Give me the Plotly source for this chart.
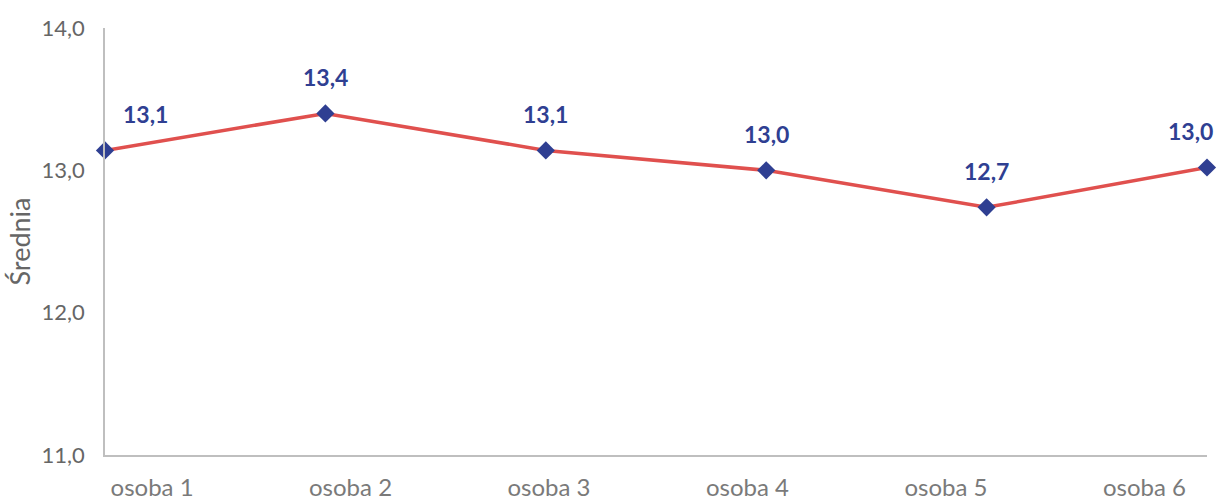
import plotly.graph_objects as go

# Average score per person
categories = ["osoba 1", "osoba 2", "osoba 3", "osoba 4", "osoba 5", "osoba 6"]
values = [13.14, 13.40, 13.14, 13.00, 12.74, 13.02]
y_ticks = [11, 12, 13, 14]

# horizontal nudges for value labels at the plot edges
label_xshift = [40, 0, 0, 0, 0, -17]

FONT = "Lato"
GREY = "#666666"
AXIS = "#BFBFBF"
LINE = "#E0504E"
MARK = "#2F3F92"

idx = list(range(len(categories)))

fig = go.Figure()
fig.add_trace(go.Scatter(
    x=idx, y=values, mode="lines+markers",
    line=dict(color=LINE, width=3.5),
    marker=dict(symbol="diamond", size=14, color=MARK),
    hoverinfo="skip", showlegend=False, cliponaxis=False,
))
# invisible trace carrying the category axis labels
fig.add_trace(go.Scatter(
    x=idx, y=values, xaxis="x2", mode="markers",
    marker=dict(opacity=0), hoverinfo="skip", showlegend=False,
))

for i, v in enumerate(values):
    fig.add_annotation(
        x=i, y=v, text=f"{v:.1f}".replace(".", ","),
        showarrow=False, yshift=36, xshift=label_xshift[i],
        font=dict(family=FONT, size=23, color=MARK, weight="bold"),
    )

fig.update_layout(
    width=1231, height=500,
    margin=dict(l=105, r=24, t=28, b=45, autoexpand=False),
    paper_bgcolor="white", plot_bgcolor="white",
    separators=", ",
    font=dict(family=FONT, color=GREY),
    xaxis=dict(
        range=[0, 5], showgrid=False, zeroline=False, automargin=False,
        showline=True, linecolor=AXIS, linewidth=1.5,
        showticklabels=False, ticks="",
    ),
    xaxis2=dict(
        overlaying="x", side="bottom", range=[-0.237, 5.315],
        tickmode="array", tickvals=idx, ticktext=categories,
        showgrid=False, zeroline=False, showline=False, ticks="",
        automargin=False,
        tickfont=dict(family=FONT, size=24, color="#7A7A7A"),
        ticklabelstandoff=16,
    ),
    yaxis=dict(
        range=[11, 14], tickvals=y_ticks, tickformat=".1f",
        showgrid=False, zeroline=False, automargin=False,
        showline=True, linecolor=AXIS, linewidth=1.5, ticks="",
        tickfont=dict(family=FONT, size=22, color=GREY),
        ticklabelstandoff=14,
        title=dict(text="Średnia", standoff=3,
                   font=dict(family=FONT, size=27, color=GREY)),
    ),
)

fig.write_html("out.html")
